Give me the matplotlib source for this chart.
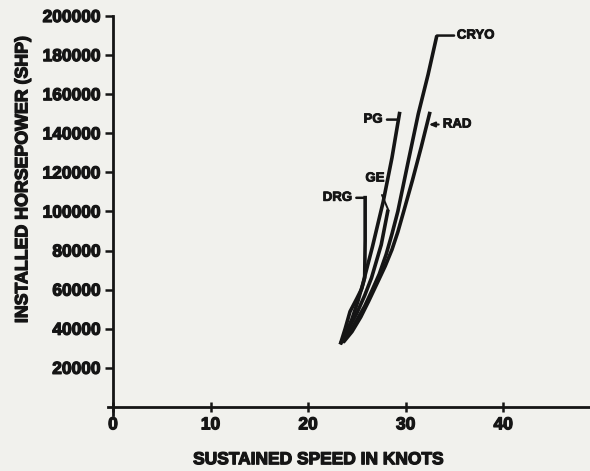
import matplotlib
matplotlib.use("Agg")
import matplotlib.pyplot as plt
import matplotlib.patheffects as pe

# ---- data ----
drg_speed = [23.3, 23.8, 24.3, 25.0, 25.5, 25.8, 25.85, 25.85]
drg_shp   = [32000, 40000, 48800, 55500, 60500, 66000, 85000, 108000]

pg_speed = [23.3, 23.9, 24.5, 25.1, 25.6, 26.6, 27.7, 28.6, 29.4]
pg_shp   = [32000, 38000, 45000, 54000, 62700, 82000, 105000, 127500, 151000]

ge_speed = [23.4, 24.2, 25.0, 25.8, 26.5, 27.5, 28.2]
ge_shp   = [33000, 40500, 48000, 57000, 66000, 83000, 101000]

cryo_speed = [23.5, 24.3, 25.0, 25.8, 26.5, 27.3, 28.0, 28.6, 29.2, 30.2, 31.3, 32.3, 33.2]
cryo_shp   = [33000, 38500, 44500, 51500, 59000, 68000, 78000, 88500, 100000, 124000, 150000, 170000, 190000]

rad_speed = [23.6, 24.5, 25.4, 26.2, 27.1, 27.9, 28.6, 29.2, 29.8, 30.7, 31.6, 32.5]
rad_shp   = [33000, 38500, 46000, 54000, 63500, 72000, 80500, 89500, 100000, 116000, 133000, 151000]

x_ticks = [0, 10, 20, 30, 40]
y_ticks = [20000, 40000, 60000, 80000, 100000, 120000, 140000, 160000, 180000, 200000]

series = {
    "DRG": (drg_speed, drg_shp),
    "PG": (pg_speed, pg_shp),
    "GE": (ge_speed, ge_shp),
    "CRYO": (cryo_speed, cryo_shp),
    "RAD": (rad_speed, rad_shp),
}

# ---- style ----
bg = "#f1f1ed"
ink = "#151515"
plt.rcParams["font.family"] = ["Liberation Sans", "DejaVu Sans"]
plt.rcParams["font.weight"] = "bold"
thick = [pe.withStroke(linewidth=0.9, foreground=ink)]

fig = plt.figure(figsize=(5.9, 4.71), dpi=100, facecolor=bg)
ax = fig.add_axes([0.1915, 0.136, 0.8085, 0.830])
ax.set_facecolor(bg)

for name, (xs, ys) in series.items():
    ax.plot(xs, ys, color=ink, lw=2.6, solid_capstyle="butt", solid_joinstyle="round")

ax.set_xlim(0, 48.9)
ax.set_ylim(0, 200000)
ax.set_xticks(x_ticks)
ax.set_xticklabels([str(v) for v in x_ticks])
ax.set_yticks(y_ticks)
ax.set_yticklabels([str(v) for v in y_ticks])

for s in ["top", "right"]:
    ax.spines[s].set_visible(False)
for s in ["left", "bottom"]:
    ax.spines[s].set_linewidth(2.0)
    ax.spines[s].set_color(ink)
    ax.spines[s].set_clip_on(False)
ax.spines["left"].set_bounds(-4000, 200000)
ax.spines["bottom"].set_bounds(-0.5, 48.9)

ax.tick_params(axis="y", direction="out", length=6, width=1.8, colors=ink,
               labelsize=12.5, pad=3)
ax.tick_params(axis="x", direction="inout", length=7, width=1.8, colors=ink,
               labelsize=12.5, pad=4)
for lab in ax.get_xticklabels() + ax.get_yticklabels():
    lab.set_fontweight("bold")
    lab.set_path_effects(thick)

ax.set_xlabel("SUSTAINED SPEED IN KNOTS", fontsize=12.5, fontweight="bold",
              color=ink, path_effects=thick, va="center", ha="center")
ax.xaxis.set_label_coords(0.43, -0.135)
ax.set_ylabel("INSTALLED HORSEPOWER (SHP)", fontsize=12.8, fontweight="bold",
              color=ink, path_effects=thick, va="center", ha="center")
ax.yaxis.set_label_coords(-0.189, 0.58)

px = 0.72  # points per pixel at 100 dpi
lab_kw = dict(fontsize=9.5, fontweight="bold", color=ink, textcoords="offset points",
              path_effects=[pe.withStroke(linewidth=0.6, foreground=ink)])

# CRYO: horizontal leader to the right of the top
x, y = cryo_speed[-1], cryo_shp[-1]
ax.annotate("CRYO", xy=(x, y), xytext=(20 * px, 0), ha="left", va="center",
            arrowprops=dict(arrowstyle="-", color=ink, lw=1.8,
                            shrinkA=0, shrinkB=0), **lab_kw)

# RAD: arrow pointing left to the curve
x, y = rad_speed[-1], rad_shp[-1]
ax.annotate("RAD", xy=(x - 0.12, y - 6500), xytext=(14 * px, 0), ha="left", va="center",
            arrowprops=dict(arrowstyle="-|>,head_length=0.35,head_width=0.15", color=ink, lw=1.5,
                            shrinkA=1, shrinkB=0), **lab_kw)

# PG: leader to the left
x, y = pg_speed[-1], pg_shp[-1]
ax.annotate("PG", xy=(x - 0.1, y - 4000), xytext=(-16 * px, 0), ha="right", va="center",
            arrowprops=dict(arrowstyle="-", color=ink, lw=1.8,
                            shrinkA=1, shrinkB=0), **lab_kw)

# DRG: leader to the left from the top
x, y = drg_speed[-1], drg_shp[-1]
ax.annotate("DRG", xy=(x, y - 1000), xytext=(-13 * px, 0), ha="right", va="center",
            arrowprops=dict(arrowstyle="-", color=ink, lw=1.8,
                            shrinkA=1, shrinkB=0), **lab_kw)

# GE: diagonal leader from above
x, y = ge_speed[-1], ge_shp[-1]
ax.annotate("GE", xy=(x, y), xytext=(-13 * px, 31 * px), ha="center", va="center",
            arrowprops=dict(arrowstyle="-", color=ink, lw=1.4,
                            shrinkA=6, shrinkB=0), **lab_kw)

fig.savefig("out.png", dpi=100, facecolor=bg)
